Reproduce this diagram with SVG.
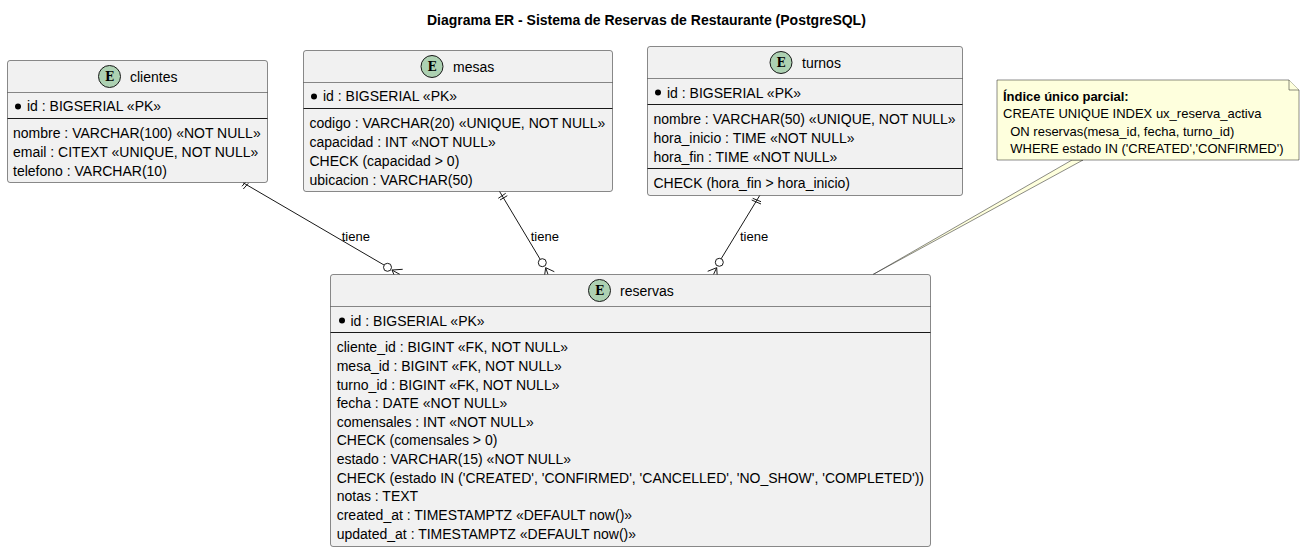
<svg xmlns="http://www.w3.org/2000/svg" width="1305" height="552" viewBox="0 0 1305 552">
<style>
text{font-family:"Liberation Sans",Arial,sans-serif;font-size:14px;fill:#000}
.t{font-weight:bold}
.b{fill:#F1F1F1;stroke:#181818;stroke-width:.5}
.s{stroke:#181818;stroke-width:1;fill:none}
.h{stroke:#181818;stroke-width:.5;fill:none}
.c{fill:#ADD1B2;stroke:#181818;stroke-width:1}
.e{font-family:"DejaVu Serif",serif;font-weight:bold;font-size:12px;text-anchor:middle}
.k{fill:#000;stroke:none}
.l{stroke:#181818;stroke-width:1;fill:none}
.o{fill:#fff;stroke:#181818;stroke-width:1}
.n{fill:#FEFFDD;stroke:#181818;stroke-width:.5}
.m{font-size:13px}
</style>
<rect width="1305" height="552" fill="#fff"/>
<text class="t" x="427" y="25">Diagrama ER - Sistema de Reservas de Restaurante (PostgreSQL)</text>

<g id="connectors">
<path class="l" d="M243 182.700L384 265"/>
<path class="l" d="M242 186.300L246.700 180.700M243.300 189L248.300 183.300"/>
<path class="l" d="M392 270L402.700 269.300M392 270L396 279.500M392 270L400 274.500"/>
<circle class="o" cx="387.500" cy="267.300" r="4"/>
<path class="l" d="M499.300 191L540 259"/>
<path class="l" d="M498.300 198.300L505.700 193.300M500 200L507.300 195.700"/>
<path class="l" d="M545.700 267.700L554.300 271.700M545.700 267.700L544.300 277.300M545.700 267.700L548 274.500"/>
<circle class="o" cx="542.300" cy="262.700" r="4"/>
<path class="l" d="M760 195L721 259"/>
<path class="l" d="M752.700 198.300L761 201.700M751.700 200L761 204"/>
<path class="l" d="M716.700 267.700L707.700 271.300M716.700 267.700L717.300 277.300M716.700 267.700L713.500 274.500"/>
<circle class="o" cx="719.300" cy="262.300" r="4"/>
<text class="m" x="341.700" y="241">tiene</text>
<text class="m" x="530.700" y="241">tiene</text>
<text class="m" x="740" y="241">tiene</text>
<path class="n" d="M1072 160L873 274.500L1083 160Z"/>
</g>

<g id="clientes">
<rect class="b" x="7.500" y="60.500" width="260" height="122" rx="2.500"/>
<path class="h" d="M7.500 92.500H267.500"/>
<path class="s" d="M7.500 118.500H267.500"/>
<circle class="c" cx="109.500" cy="76.500" r="11"/>
<text class="e" x="109.500" y="81">E</text>
<text x="130" y="82">clientes</text>
<circle class="k" cx="18" cy="106.500" r="3"/>
<text x="27" y="111">id : BIGSERIAL «PK»</text>
<text x="13" y="138">nombre : VARCHAR(100) «NOT NULL»</text>
<text x="13" y="157">email : CITEXT «UNIQUE, NOT NULL»</text>
<text x="13" y="176">telefono : VARCHAR(10)</text>
</g>

<g id="mesas">
<rect class="b" x="303.500" y="50.500" width="309" height="141" rx="2.500"/>
<path class="h" d="M303.500 82.500H612.500"/>
<path class="s" d="M303.500 108.500H612.500"/>
<circle class="c" cx="432" cy="66.500" r="11"/>
<text class="e" x="432" y="71">E</text>
<text x="453" y="72">mesas</text>
<circle class="k" cx="314" cy="96.500" r="3"/>
<text x="323" y="101">id : BIGSERIAL «PK»</text>
<text x="309.500" y="128">codigo : VARCHAR(20) «UNIQUE, NOT NULL»</text>
<text x="309.500" y="147">capacidad : INT «NOT NULL»</text>
<text x="309.500" y="166">CHECK (capacidad &gt; 0)</text>
<text x="309.500" y="185">ubicacion : VARCHAR(50)</text>
</g>

<g id="turnos">
<rect class="b" x="647.500" y="46.500" width="315" height="149" rx="2.500"/>
<path class="h" d="M647.500 78.500H962.500"/>
<path class="s" d="M647.500 104.500H962.500"/>
<path class="s" d="M647.500 168.500H962.500"/>
<circle class="c" cx="781" cy="62.500" r="11"/>
<text class="e" x="781" y="67">E</text>
<text x="802" y="68">turnos</text>
<circle class="k" cx="658" cy="92.500" r="3"/>
<text x="667" y="98">id : BIGSERIAL «PK»</text>
<text x="653.500" y="124">nombre : VARCHAR(50) «UNIQUE, NOT NULL»</text>
<text x="653.500" y="143">hora_inicio : TIME «NOT NULL»</text>
<text x="653.500" y="162">hora_fin : TIME «NOT NULL»</text>
<text x="653.500" y="188">CHECK (hora_fin &gt; hora_inicio)</text>
</g>

<g id="reservas">
<rect class="b" x="330.500" y="274.500" width="600" height="272" rx="2.500"/>
<path class="h" d="M330.500 306.500H930.500"/>
<path class="s" d="M330.500 332.500H930.500"/>
<circle class="c" cx="599.500" cy="290.500" r="11"/>
<text class="e" x="599.500" y="295">E</text>
<text x="620" y="296">reservas</text>
<circle class="k" cx="342" cy="320.500" r="3"/>
<text x="350.500" y="326">id : BIGSERIAL «PK»</text>
<text x="336.700" y="352">cliente_id : BIGINT «FK, NOT NULL»</text>
<text x="336.700" y="371">mesa_id : BIGINT «FK, NOT NULL»</text>
<text x="336.700" y="390">turno_id : BIGINT «FK, NOT NULL»</text>
<text x="336.700" y="408">fecha : DATE «NOT NULL»</text>
<text x="336.700" y="427">comensales : INT «NOT NULL»</text>
<text x="336.700" y="445">CHECK (comensales &gt; 0)</text>
<text x="336.700" y="464">estado : VARCHAR(15) «NOT NULL»</text>
<text x="336.700" y="483">CHECK (estado IN ('CREATED', 'CONFIRMED', 'CANCELLED', 'NO_SHOW', 'COMPLETED'))</text>
<text x="336.700" y="501">notas : TEXT</text>
<text x="336.700" y="520">created_at : TIMESTAMPTZ «DEFAULT now()»</text>
<text x="336.700" y="539">updated_at : TIMESTAMPTZ «DEFAULT now()»</text>
</g>

<g id="note">
<path class="n" d="M997 80H1289L1299 90V160H997Z"/>
<path class="n" d="M1289 80V90H1299"/>
<text class="m" x="1003" y="101" font-weight="bold">Índice único parcial:</text>
<text class="m" x="1003" y="118">CREATE UNIQUE INDEX ux_reserva_activa</text>
<text class="m" x="1003" y="136" xml:space="preserve">  ON reservas(mesa_id, fecha, turno_id)</text>
<text class="m" x="1003" y="153" xml:space="preserve">  WHERE estado IN ('CREATED','CONFIRMED')</text>
</g>
</svg>
